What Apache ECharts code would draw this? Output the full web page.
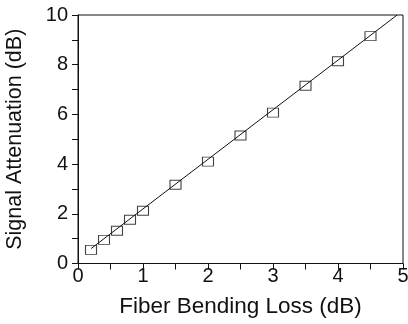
<!DOCTYPE html>
<html>
<head>
<meta charset="utf-8">
<script src="https://cdn.jsdelivr.net/npm/echarts@6/dist/echarts.min.js"></script>
<style>
html,body{margin:0;padding:0;background:#fff;}
#chart{width:408px;height:324px;}
</style>
</head>
<body>
<div id="chart"></div>
<script>
// Data
const bendingLoss = [0.2, 0.4, 0.6, 0.8, 1.0, 1.5, 2.0, 2.5, 3.0, 3.5, 4.0, 4.5];
const signalAtten = [0.55, 0.95, 1.32, 1.76, 2.12, 3.17, 4.1, 5.15, 6.07, 7.15, 8.14, 9.15];
const fitLineX = [0.2, 4.91];
const fitLineY = [0.6, 10];
const xTicks = [0, 1, 2, 3, 4, 5];
const yTicks = [0, 2, 4, 6, 8, 10];

const chart = echarts.init(document.getElementById('chart'), null, {renderer: 'canvas'});
const font = '"Liberation Sans", Arial, Helvetica, sans-serif';
const ink = '#111';

chart.setOption({
  animation: false,
  backgroundColor: '#fff',
  grid: {left: 78, right: 5, top: 15, bottom: 60.5, containLabel: false, outerBoundsMode: 'none',
         show: true, borderColor: ink, borderWidth: 1, backgroundColor: 'transparent'},
  xAxis: {
    type: 'value', min: xTicks[0], max: xTicks[xTicks.length - 1], interval: 1,
    name: 'Fiber Bending Loss (dB)', nameLocation: 'middle', nameGap: 32,
    nameTextStyle: {fontFamily: font, fontSize: 22.5, color: ink},
    axisLine: {show: true, onZero: false, lineStyle: {color: ink, width: 1}},
    axisTick: {show: true, inside: false, length: 6, lineStyle: {color: ink}},
    minorTick: {show: true, splitNumber: 2, length: 6, lineStyle: {color: ink}},
    axisLabel: {fontFamily: font, fontSize: 20, color: ink, margin: 3},
    splitLine: {show: false}
  },
  yAxis: {
    type: 'value', min: yTicks[0], max: yTicks[yTicks.length - 1], interval: 2,
    name: 'Signal Attenuation (dB)', nameLocation: 'middle', nameGap: 52,
    nameTextStyle: {fontFamily: font, fontSize: 21.5, color: ink},
    axisLine: {show: true, onZero: false, lineStyle: {color: ink, width: 1}},
    axisTick: {show: true, inside: false, length: 6, lineStyle: {color: ink}},
    minorTick: {show: true, splitNumber: 2, length: 6, lineStyle: {color: ink}},
    axisLabel: {fontFamily: font, fontSize: 20, color: ink, margin: 10},
    splitLine: {show: false}
  },
  series: [
    {
      type: 'line',
      data: fitLineX.map((x, i) => [x, fitLineY[i]]),
      showSymbol: false, symbol: 'none',
      lineStyle: {color: ink, width: 1},
      z: 2
    },
    {
      type: 'scatter',
      data: bendingLoss.map((x, i) => [x, signalAtten[i]]),
      symbol: 'rect', symbolSize: [11, 9],
      itemStyle: {color: 'rgba(0,0,0,0)', borderColor: ink, borderWidth: 1},
      z: 3
    }
  ]
});
</script>
</body>
</html>
